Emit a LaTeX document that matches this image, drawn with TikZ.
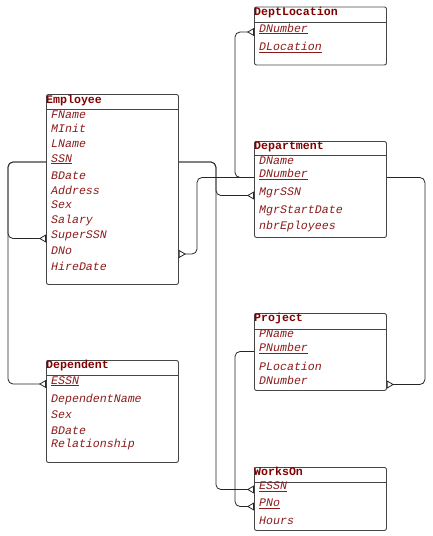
\documentclass[tikz,border=0pt]{standalone}
\usepackage{fontspec}
\newfontfamily\lmono{Liberation Mono}
\usetikzlibrary{arrows.meta,calc}
\definecolor{dred}{RGB}{139,26,26}
\definecolor{tred}{RGB}{128,0,0}
\definecolor{boxgray}{RGB}{70,70,70}
\newcommand{\ul}[1]{\underline{\smash{#1}\vphantom{g}}}
\tikzset{
  tbl/.style={draw=boxgray, line width=0.9pt, rounded corners=2pt, anchor=north west, minimum width=132pt, inner sep=0pt},
  ttl/.style={font=\lmono\bfseries\fontsize{11.6}{12}\selectfont, text=tred, anchor=base west, inner sep=0pt},
  att/.style={font=\lmono\itshape\fontsize{11.6}{12}\selectfont, text=dred, anchor=base west, inner sep=0pt},
  hline/.style={draw=boxgray, line width=0.9pt},
  con/.style={draw=black!85, line width=0.8pt, rounded corners=5pt},
  many/.style={-{Triangle[open,reversed,length=7pt,width=8pt]}}
}
\begin{document}
\begin{tikzpicture}[x=1pt,y=-1pt]
\useasboundingbox (0,0) rectangle (432,536);
% Employee
\node[tbl, minimum height=190pt] (emp) at (46,94) {};
\node[ttl] (empT) at (46,103) {Employee};
\draw[hline] (46,109.5) -- (178,109.5);
\node[att] (eFName) at (51,118) {FName};
\node[att] (eMInit) at (51,132) {MInit};
\node[att] (eLName) at (51,147) {LName};
\node[att] (eSSN) at (51,162) {\underline{SSN}};
\node[att] (eBDate) at (51,179) {BDate};
\node[att] (eAddr) at (51,194) {Address};
\node[att] (eSex) at (51,208) {Sex};
\node[att] (eSal) at (51,223) {Salary};
\node[att] (eSuper) at (51,238.5) {SuperSSN};
\node[att] (eDNo) at (51,254) {DNo};
\node[att] (eHire) at (51,270) {HireDate};
% DeptLocation
\node[tbl, minimum height=58pt] (dl) at (254,6.5) {};
\node[ttl] (dlT) at (254,15.5) {DeptLocation};
\draw[hline] (254,22.5) -- (386,22.5);
\node[att] (dlDNum) at (259,32) {\underline{DNumber}};
\node[att] (dlLoc) at (259,50.5) {\underline{DLocation}};
% Department
\node[tbl, minimum height=96pt] (dept) at (254,141) {};
\node[ttl] (deptT) at (254,149) {Department};
\draw[hline] (254,155.5) -- (386,155.5);
\node[att] (dDName) at (259,164) {DName};
\node[att] (dDNum) at (259,177.5) {\underline{DNumber}};
\node[att] (dMgr) at (259,195.5) {MgrSSN};
\node[att] (dMgrSD) at (259,213) {MgrStartDate};
\node[att] (dNbr) at (259,229.5) {nbrEployees};
% Dependent
\node[tbl, minimum height=102pt] (dep) at (46,360) {};
\node[ttl] (depT) at (46,368.5) {Dependent};
\draw[hline] (46,375.5) -- (178,375.5);
\node[att] (dESSN) at (51,384) {\underline{ESSN}};
\node[att] (dDepName) at (51,402.5) {DependentName};
\node[att] (dSex) at (51,418.5) {Sex};
\node[att] (dBDate) at (51,434) {BDate};
\node[att] (dRel) at (51,447.5) {Relationship};
% Project
\node[tbl, minimum height=77pt] (proj) at (254,313) {};
\node[ttl] (projT) at (254,321.5) {Project};
\draw[hline] (254,329.5) -- (386,329.5);
\node[att] (pPName) at (259,337) {PName};
\node[att] (pPNum) at (259,351.5) {\underline{PNumber}};
\node[att] (pPLoc) at (259,370.5) {PLocation};
\node[att] (pDNum) at (259,384.5) {DNumber};
% WorksOn
\node[tbl, minimum height=63pt] (wo) at (254,467) {};
\node[ttl] (woT) at (254,475.5) {WorksOn};
\draw[hline] (254,482) -- (386,482);
\node[att] (wESSN) at (259,489.5) {\underline{ESSN}};
\node[att] (wPNo) at (259,506.5) {\underline{PNo}};
\node[att] (wHours) at (259,524.5) {Hours};
% connectors
\draw[con,many] (emp.west |- eSSN.base) -- ++(-38,0) |- (emp.west |- eSuper.base);
\draw[con,many] (emp.west |- eSSN.base) -- ++(-38,0) |- (dep.west |- dESSN.base);
\draw[con,many] (emp.east |- eSSN.base) -- ++(37,0) |- (dept.west |- dMgr.base);
\draw[con,many] (emp.east |- eSSN.base) -- ++(37,0) |- (wo.west |- wESSN.base);
\draw[con,many] (dept.west |- dDNum.base) -- ++(-57,0) |- (emp.east |- eDNo.base);
\draw[con,many] (dept.west |- dDNum.base) -- ++(-19,0) |- (dl.west |- dlDNum.base);
\draw[con,many] (dept.east |- dDNum.base) -- ++(38,0) |- (proj.east |- pDNum.base);
\draw[con,many] (proj.west |- pPNum.base) -- ++(-19,0) |- (wo.west |- wPNo.base);
\end{tikzpicture}
\end{document}
